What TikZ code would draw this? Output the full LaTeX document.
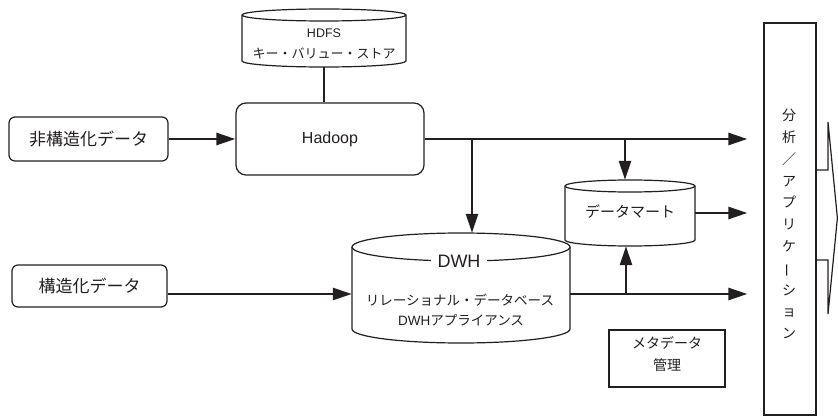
\documentclass[tikz,border=0pt]{standalone}
\usepackage{fontspec}
\setmainfont{Noto Sans CJK JP}
\newfontfamily\lat{Liberation Sans}
\usetikzlibrary{arrows.meta}
\definecolor{ink}{RGB}{35,31,32}
\tikzset{
 boxline/.style={draw=ink,line width=1.2pt},
 rbox/.style={boxline,rounded corners=6pt,fill=white,inner sep=0pt,text=ink},
 conn/.style={draw=ink,line width=2.6pt},
 arr/.style={conn,-{Triangle[length=19pt,width=12pt]}},
 lbl/.style={text=ink,inner sep=0pt,align=center},
}
% name, x1, x2, ytop(center of top ellipse), ybot(center of bottom ellipse), ry
\newcommand{\cylat}[6]{%
 \filldraw[boxline,fill=white] (#2,-#4) -- (#2,-#5)
   arc[start angle=180,end angle=360,x radius={(#3-#2)/2},y radius=#6]
   -- (#3,-#4)
   arc[start angle=0,end angle=180,x radius={(#3-#2)/2},y radius=#6] -- cycle;
 \draw[boxline] (#2,-#4) arc[start angle=180,end angle=360,x radius={(#3-#2)/2},y radius=#6];
 \node[inner sep=0pt,minimum width={(#3-#2)*1pt},minimum height={(#5-#4+2*#6)*1pt}] (#1) at ({(#2+#3)/2},{-(#4+#5)/2}) {};
}
\begin{document}
\begin{tikzpicture}[x=1pt,y=1pt]
\useasboundingbox[fill=white] (0,0) rectangle (838,-417);

% HDFS cylinder
\cylat{hdfs}{242}{406}{15}{61}{6}
\node[lbl,font=\lat\fontsize{12.5}{14}\selectfont] (hdfst) at (324,-33) {HDFS};
\node[lbl,font=\fontsize{13}{15}\selectfont] (kvs) at (324,-53) {キー・バリュー・ストア};

% Hadoop
\node[rbox,rounded corners=10pt,minimum width=188pt,minimum height=72pt,font=\lat\fontsize{16}{19}\selectfont] (hadoop) at (330,-139) {Hadoop};

% left boxes
\node[rbox,minimum width=159pt,minimum height=44pt,font=\fontsize{17}{20}\selectfont] (hikozo) at (88.5,-139) {非構造化データ};
\node[rbox,minimum width=155pt,minimum height=42pt,font=\fontsize{17}{20}\selectfont] (kozo) at (89.5,-286) {構造化データ};

% DWH cylinder
\cylat{dwh}{352}{570}{247}{329}{14}
\node[lbl,fill=white,inner xsep=7pt,inner ysep=2pt,font=\lat\fontsize{18}{20}\selectfont] (dwht) at (459,-261) {DWH};
\node[lbl,font=\fontsize{13.5}{16}\selectfont] (rdb) at (460,-300) {リレーショナル・データベース};
\node[lbl,font=\fontsize{13.5}{16}\selectfont] (appl) at (461,-320) {{\lat DWH}アプライアンス};

% Data mart cylinder
\cylat{mart}{565}{695}{186}{240}{6}
\node[lbl,font=\fontsize{15}{17}\selectfont] (martt) at (630,-212) {データマート};

% Metadata box
\node[boxline,fill=white,inner sep=0pt,minimum width=116pt,minimum height=57pt] (meta) at (667,-358.5) {};
\node[lbl,font=\fontsize{14}{22}\selectfont] (metat) at (667,-354) {メタデータ\\管理};

% Analysis box
\node[boxline,fill=white,inner sep=0pt,minimum width=52pt,minimum height=392pt] (ana) at (790,-219) {};
\node[lbl,font=\fontsize{14}{21.8}\selectfont] (anat) at (789,-224) {分\\析\\／\\ア\\プ\\リ\\ケ\\\rotatebox[origin=c]{90}{ー}\\シ\\ョ\\ン};
% block arrow partly behind the box
\draw[boxline,line join=miter] (816,-170) -- (828,-170) -- (828,-122) -- (837.4,-218) -- (828,-314) -- (828,-260) -- (816,-260);

% connectors
\draw[conn] (hdfs.south) -- (hdfs.south |- hadoop.north);
\draw[arr] (hikozo.east) -- (hikozo.east -| hadoop.west);
\draw[arr,shorten >=16pt] (hadoop.east) -- (hadoop.east -| ana.west);
\coordinate (b1) at (472,-139);
\coordinate (b2) at (625,-139);
\draw[arr] (b1) -- (b1 |- dwh.north);
\draw[arr] (b2) -- (b2 |- mart.north);
\draw[arr] ([yshift=-8pt]kozo.east) -- ([yshift=-8pt]kozo.east -| dwh.west);
\coordinate (b3) at (626,-294);
\draw[arr,shorten >=16pt] (b3 -| dwh.east) -- (b3 -| ana.west);
\draw[arr] (b3) -- (b3 |- mart.south);
\draw[arr,shorten >=16pt] (mart.east) -- (mart.east -| ana.west);
\end{tikzpicture}
\end{document}
